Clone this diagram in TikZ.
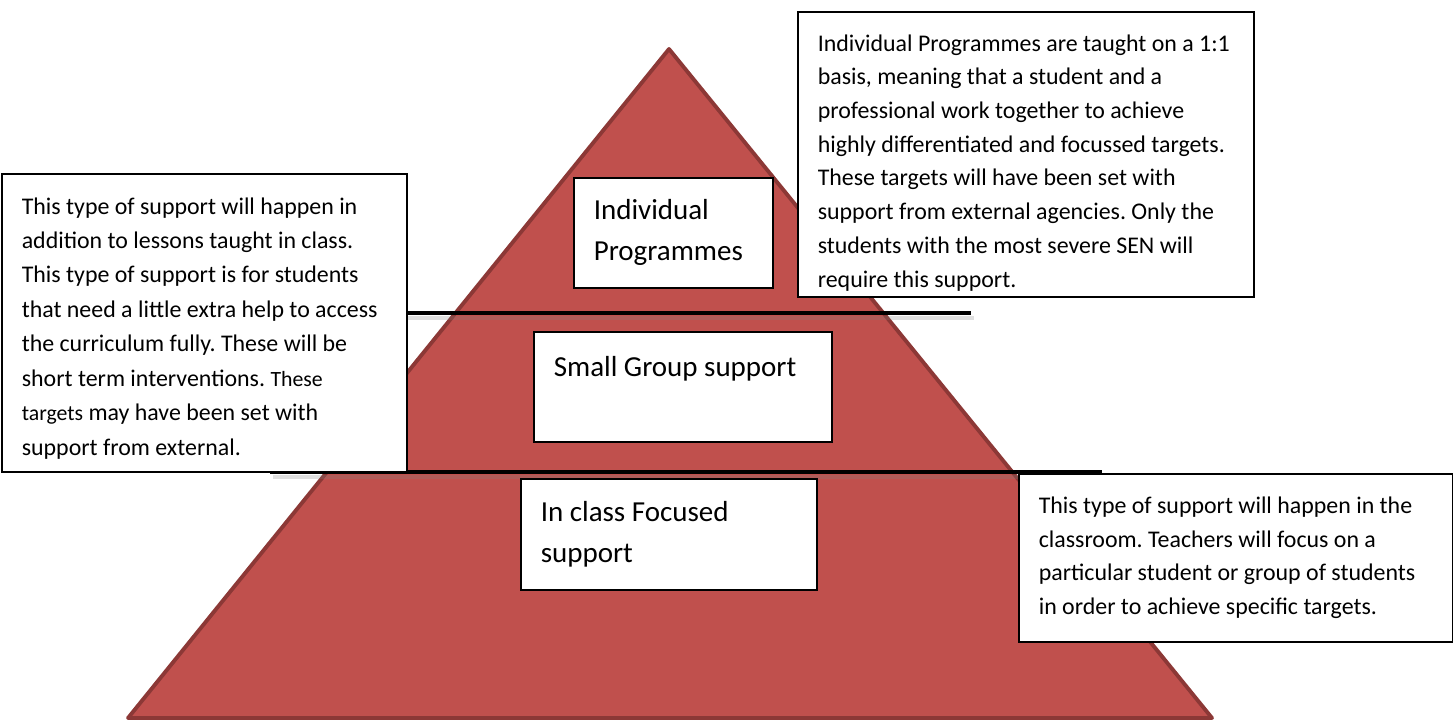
\documentclass[tikz,border=0pt]{standalone}
\usepackage{fontspec}
\setmainfont{Carlito}
\usepackage{xcolor}
\usepackage{tikz}
\usetikzlibrary{calc}

\begin{document}
\begin{tikzpicture}[
    x=0.02cm, y=-0.02cm,
    txtbox/.style={rectangle, draw=black, fill=white, line width=0.9pt,
        anchor=north west, align=flush left, inner xsep=0.4cm, inner ysep=0pt,
        font=\fontsize{13.6}{19.6}\selectfont\frenchspacing},
    lvlbox/.style={txtbox, font=\fontsize{16.5}{23.3}\selectfont\frenchspacing},
    divider/.style={line width=2.3pt, black},
    divshadow/.style={line width=2.6pt, black!50, opacity=0.25},
]

% ── Colors ──
\definecolor{pyrfill}{HTML}{C0504D}
\definecolor{pyrborder}{HTML}{8C3836}

\useasboundingbox (0,0) rectangle (1453,724);

% ══════════════════════════════════════════════
% Pyramid
% ══════════════════════════════════════════════
\coordinate (apex) at (669,49);
\coordinate (baseL) at (128,718);
\coordinate (baseR) at (1212,718);
\draw[fill=pyrfill, draw=pyrborder, line width=2.2pt, line join=round]
    (apex) -- (baseR) -- (baseL) -- cycle;

% ══════════════════════════════════════════════
% Dividing lines between tiers
% ══════════════════════════════════════════════
\coordinate (topL) at (380,313);
\coordinate (topR) at (971,313);
\coordinate (midL) at (270,472);
\coordinate (midR) at (1102,472);
\draw[divshadow] ([shift={(3,5)}]topL) -- ([shift={(3,5)}]topR);
\draw[divshadow] ([shift={(3,5)}]midL) -- ([shift={(3,5)}]midR);
\draw[divider] (topL) -- (topR);
\draw[divider] (midL) -- (midR);

% ══════════════════════════════════════════════
% Tier labels
% ══════════════════════════════════════════════
\node[lvlbox, text width=3.18cm, minimum height=2.2cm]
    at (573,177) (indiv) {Individual\\Programmes};
\node[lvlbox, text width=5.16cm, minimum height=2.2cm]
    at (533,331) (smallgrp) {Small Group support\\\mbox{}};
\node[lvlbox, text width=5.12cm, minimum height=2.22cm]
    at (520,478) (inclass) {In class Focused\\support};

% ══════════════════════════════════════════════
% Descriptions
% ══════════════════════════════════════════════
\node[txtbox, text width=7.3cm, minimum height=5.96cm]
    at (1,173) (smalldesc) {\rule{0pt}{0.55cm}This type of support will happen in\\
    addition to lessons taught in class.\\
    This type of support is for students\\
    that need a little extra help to access\\
    the curriculum fully. These will be\\
    short term interventions. {\fontsize{12.4}{19.6}\selectfont These}\\
    {\fontsize{12.4}{19.6}\selectfont targets} may have been set with\\
    support from external.
};

\node[txtbox, text width=8.32cm, minimum height=5.7cm,
    font=\fontsize{13.6}{19.2}\selectfont\frenchspacing]
    at (797,11) (indivdesc) {\rule{0pt}{0.67cm}Individual Programmes are taught on a 1:1\\
    basis, meaning that a student and a\\
    professional work together to achieve\\
    highly differentiated and focussed targets.\\
    These targets will have been set with\\
    support from external agencies. Only the\\
    students with the most severe SEN will\\
    require this support.
};

\node[txtbox, text width=7.88cm, minimum height=3.36cm,
    font=\fontsize{13.6}{19}\selectfont\frenchspacing]
    at (1018,473) (inclassdesc) {
    This type of support will happen in the\\
    classroom. Teachers will focus on a\\
    particular student or group of students\\
    in order to achieve specific targets.
};

\end{tikzpicture}
\end{document}
